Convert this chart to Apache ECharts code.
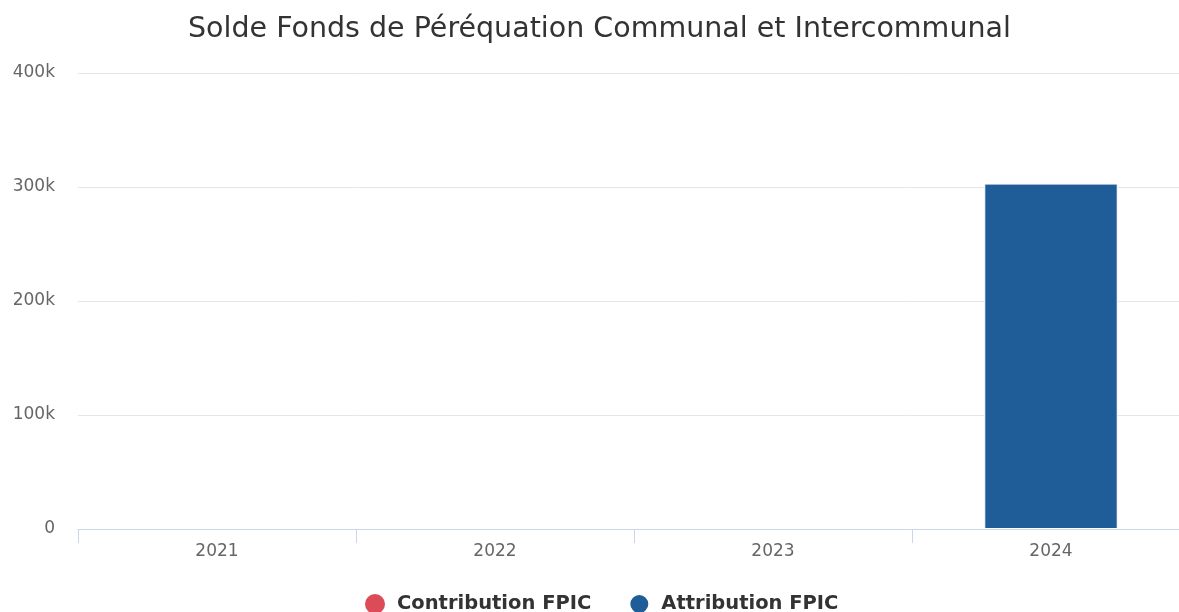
<!DOCTYPE html>
<html><head><meta charset="utf-8">
<script src="https://cdn.jsdelivr.net/npm/echarts@6/dist/echarts.min.js"></script>
<style>html,body{margin:0;padding:0;background:#fff;overflow:hidden}#c{width:1179px;height:612px}</style>
</head><body><div id="c"></div>
<script>
const categories = ['2021', '2022', '2023', '2024'];
const contributionFPIC = [0, 0, 0, 0];
const attributionFPIC = [null, null, null, 303000];
const yTicks = [0, 100000, 200000, 300000, 400000];

const chart = echarts.init(document.getElementById('c'));
const font = 'DejaVu Sans';
chart.setOption({
  animation: false,
  title: {
    text: 'Solde Fonds de Péréquation Communal et Intercommunal',
    left: 183, top: 10,
    textStyle: { fontFamily: font, fontSize: 28.5, fontWeight: 'normal', color: '#333' }
  },
  legend: {
    top: 593, left: 365, padding: 0, icon: 'circle', itemWidth: 20, itemHeight: 20, itemGap: 37,
    textStyle: { fontFamily: font, fontSize: 19.5, fontWeight: 'bold', color: '#333', padding: [0, 0, 0, 7] }
  },
  grid: { left: 78, width: 1112, top: 73, height: 456, outerBoundsMode: 'none', containLabel: false },
  xAxis: {
    type: 'category', data: categories,
    axisLine: { show: true, lineStyle: { color: '#ccd6eb', width: 1 } },
    axisTick: { show: true, alignWithLabel: false, length: 14, lineStyle: { color: '#ccd6eb', width: 1 } },
    axisLabel: { fontFamily: font, fontSize: 17, color: '#666', margin: 14 }
  },
  yAxis: {
    type: 'value', min: yTicks[0], max: yTicks[yTicks.length - 1], interval: 100000,
    axisLabel: { fontFamily: font, fontSize: 17, color: '#666', margin: 23,
      formatter: v => v === 0 ? '0' : (v / 1000) + 'k' },
    splitLine: { lineStyle: { color: '#e6e6e6' } }
  },
  series: [
    { name: 'Contribution FPIC', type: 'bar', stack: 's', data: contributionFPIC,
      barWidth: '48%', itemStyle: { color: '#dc4c58' } },
    { name: 'Attribution FPIC', type: 'bar', stack: 's', data: attributionFPIC,
      barWidth: '48%', itemStyle: { color: '#1f5d98', borderColor: '#fff', borderWidth: 1 } }
  ]
});
</script></body></html>
